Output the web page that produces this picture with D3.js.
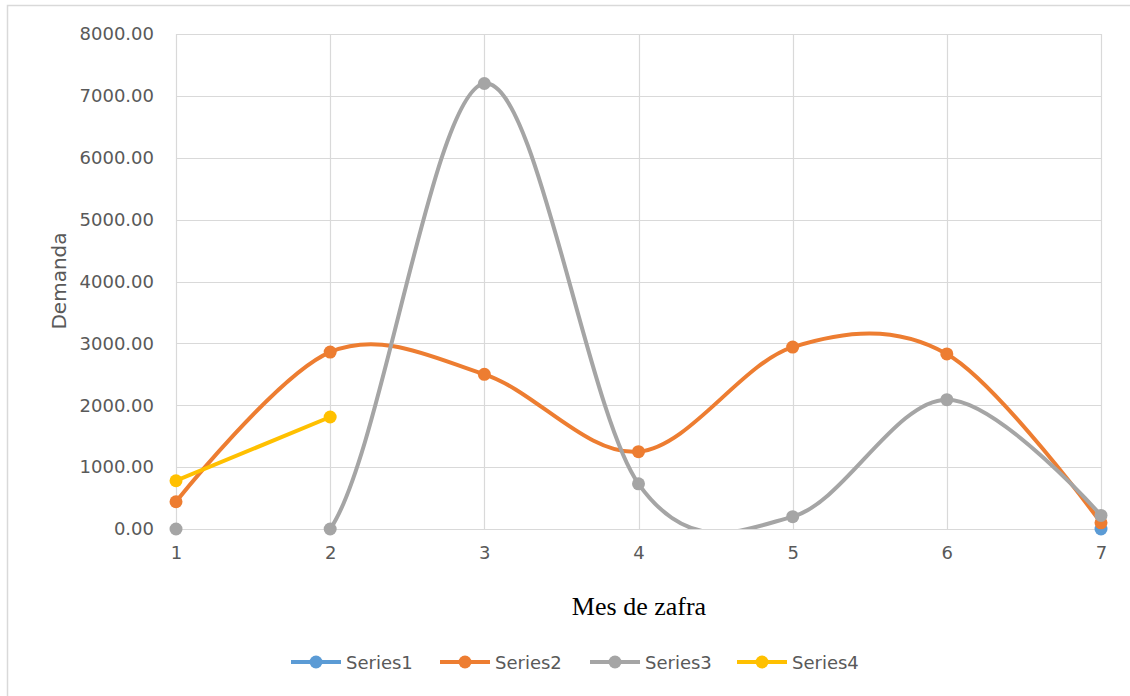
<!DOCTYPE html>
<html><head><meta charset="utf-8">
<script src="https://cdn.jsdelivr.net/npm/d3@7"></script>
<style>body{margin:0;background:#fff}svg{display:block}</style>
</head><body><svg id="c" width="1130" height="696"></svg>
<script>
const categories = [1, 2, 3, 4, 5, 6, 7];
const series1 = [null, null, null, null, null, null, 0];
const series2 = [440, 2860, 2500, 1250, 2940, 2830, 100];
const series3 = [0, 0, 7200, 730, 200, 2090, 220];
const series4 = [780, 1810, null, null, null, null, null];
const seriesNames = ["Series1", "Series2", "Series3", "Series4"];
const seriesColors = ["#5B9BD5", "#ED7D31", "#A5A5A5", "#FFC000"];
const yTicks = [0, 1000, 2000, 3000, 4000, 5000, 6000, 7000, 8000];
const xTitle = "Mes de zafra";
const yTitle = "Demanda";

const allSeries = [series1, series2, series3, series4];
const svg = d3.select("#c");
const L = 176, R = 1101, T = 34, B = 529;
const x = d3.scaleLinear().domain([1, 7]).range([L, R]);
const y = d3.scaleLinear().domain([0, 8000]).range([B, T]);
const txt = "#595959", grid = "#d9d9d9";
const font = "DejaVu Sans";

svg.append("rect").attr("x", 7.5).attr("y", 5.5).attr("width", 1130).attr("height", 700)
  .attr("fill", "#fff").attr("stroke", grid).attr("stroke-width", 1.5);

// gridlines
svg.append("g").selectAll("line").data(yTicks).join("line")
  .attr("x1", L).attr("x2", R).attr("y1", d => Math.round(y(d)) + 0.5).attr("y2", d => Math.round(y(d)) + 0.5)
  .attr("stroke", grid).attr("stroke-width", 1.2);
svg.append("g").selectAll("line").data(categories).join("line")
  .attr("y1", T).attr("y2", B).attr("x1", d => Math.round(x(d)) + 0.5).attr("x2", d => Math.round(x(d)) + 0.5)
  .attr("stroke", grid).attr("stroke-width", 1.2);

// axes via d3
const yAxis = d3.axisLeft(y).tickValues(yTicks).tickFormat(d3.format(".2f")).tickSize(0).tickPadding(22);
const gy = svg.append("g").attr("transform", `translate(${L},0)`).call(yAxis);
gy.select(".domain").remove();
gy.selectAll("text").attr("fill", txt).style("font-family", font).style("font-size", "18px");

const xAxis = d3.axisBottom(x).tickValues(categories).tickFormat(d3.format("d")).tickSize(0).tickPadding(17);
const gx = svg.append("g").attr("transform", `translate(0,${B})`).call(xAxis);
gx.select(".domain").remove();
gx.selectAll("text").attr("fill", txt).style("font-family", font).style("font-size", "18px");

// titles
svg.append("text").attr("transform", `translate(66,281) rotate(-90)`).attr("text-anchor", "middle")
  .attr("fill", txt).style("font-family", font).style("font-size", "20px").text(yTitle);
svg.append("text").attr("x", 639).attr("y", 615).attr("text-anchor", "middle")
  .attr("fill", "#000").style("font-family", "Liberation Serif").style("font-size", "26px").text(xTitle);

// clip
svg.append("clipPath").attr("id", "pc").append("rect").attr("x", L).attr("y", T).attr("width", R - L).attr("height", B - T);

const line = d3.line().defined(d => d.v != null).x(d => x(d.c)).y(d => y(d.v)).curve(d3.curveCardinal.tension(0));
const lines = svg.append("g").attr("clip-path", "url(#pc)");
const marks = svg.append("g");
allSeries.forEach((s, i) => {
  const pts = categories.map((c, j) => ({c, v: s[j]}));
  lines.append("path").datum(pts).attr("d", line).attr("fill", "none")
    .attr("stroke", seriesColors[i]).attr("stroke-width", 4).attr("stroke-linejoin", "round").attr("stroke-linecap", "round");
});
allSeries.forEach((s, i) => {
  const pts = categories.map((c, j) => ({c, v: s[j]})).filter(d => d.v != null);
  marks.append("g").selectAll("circle").data(pts).join("circle")
    .attr("cx", d => x(d.c)).attr("cy", d => y(d.v)).attr("r", 6.5).attr("fill", seriesColors[i]);
});

// legend
const legX = [291, 440, 590, 737];
const lg = svg.append("g");
seriesNames.forEach((n, i) => {
  const g = lg.append("g").attr("transform", `translate(${legX[i]},662)`);
  g.append("line").attr("x1", 0).attr("x2", 50).attr("y1", 0).attr("y2", 0).attr("stroke", seriesColors[i]).attr("stroke-width", 4);
  g.append("circle").attr("cx", 25).attr("cy", 0).attr("r", 6.5).attr("fill", seriesColors[i]);
  g.append("text").attr("x", 55).attr("y", 6.5).attr("fill", txt).style("font-family", font).style("font-size", "18px").text(n);
});
</script></body></html>
